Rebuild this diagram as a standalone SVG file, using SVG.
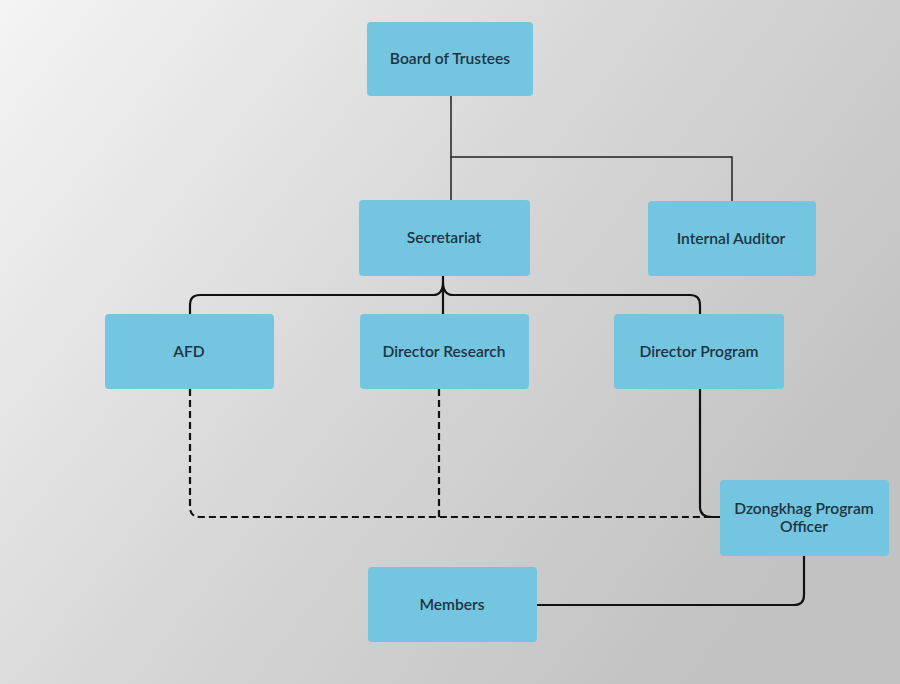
<svg xmlns="http://www.w3.org/2000/svg" width="900" height="684" viewBox="0 0 900 684">
<defs>
<linearGradient id="bg" x1="0" y1="0" x2="1" y2="0.6">
<stop offset="0" stop-color="#f4f4f4"/>
<stop offset="0.55" stop-color="#d6d6d6"/>
<stop offset="1" stop-color="#c2c2c2"/>
</linearGradient>
<style>
.box{fill:#74c6e0;}
.lbl{font-family:Lato,"Liberation Sans",sans-serif;font-size:15.6px;fill:#1e3343;text-anchor:middle;font-weight:600;}
.ln{fill:none;stroke:#111;stroke-width:2.2;}
.thin{fill:none;stroke:#222;stroke-width:1.5;}
.dash{fill:none;stroke:#111;stroke-width:2.2;stroke-dasharray:7 4;}
</style>
</defs>
<rect width="900" height="684" fill="url(#bg)"/>
<g id="connectors">
<path class="thin" d="M451 96 V200 M451 157 H732 V201"/>
<path class="ln" d="M443 276 V314 M443 282 Q443 295 433 295 H200 Q190 295 190 305 V314 M443 282 Q443 295 453 295 H690 Q700 295 700 305 V314"/>
<path class="ln" d="M700 389 V507 Q700 517 712 517 H720"/>
<path class="dash" d="M190 389 V507 Q190 517 200 517 H716"/>
<path class="dash" d="M439 389 V517"/>
<path class="ln" d="M804 556 V595 Q804 605 794 605 H537"/>
</g>
<g id="board"><rect class="box" x="367" y="22" width="166" height="74" rx="4"/><text class="lbl" x="450" y="64">Board of Trustees</text></g>
<g id="secretariat"><rect class="box" x="359" y="200" width="171" height="76" rx="4"/><text class="lbl" x="444" y="243">Secretariat</text></g>
<g id="auditor"><rect class="box" x="648" y="201" width="168" height="75" rx="4"/><text class="lbl" x="731" y="244">Internal Auditor</text></g>
<g id="afd"><rect class="box" x="105" y="314" width="169" height="75" rx="4"/><text class="lbl" x="189" y="357">AFD</text></g>
<g id="research"><rect class="box" x="360" y="314" width="169" height="75" rx="4"/><text class="lbl" x="444" y="357">Director Research</text></g>
<g id="program"><rect class="box" x="614" y="314" width="170" height="75" rx="4"/><text class="lbl" x="699" y="357">Director Program</text></g>
<g id="dzongkhag"><rect class="box" x="720" y="480" width="169" height="76" rx="4"/><text class="lbl" x="804" y="514">Dzongkhag Program</text><text class="lbl" x="804" y="532">Officer</text></g>
<g id="members"><rect class="box" x="368" y="567" width="169" height="75" rx="4"/><text class="lbl" x="452" y="610">Members</text></g>
</svg>
